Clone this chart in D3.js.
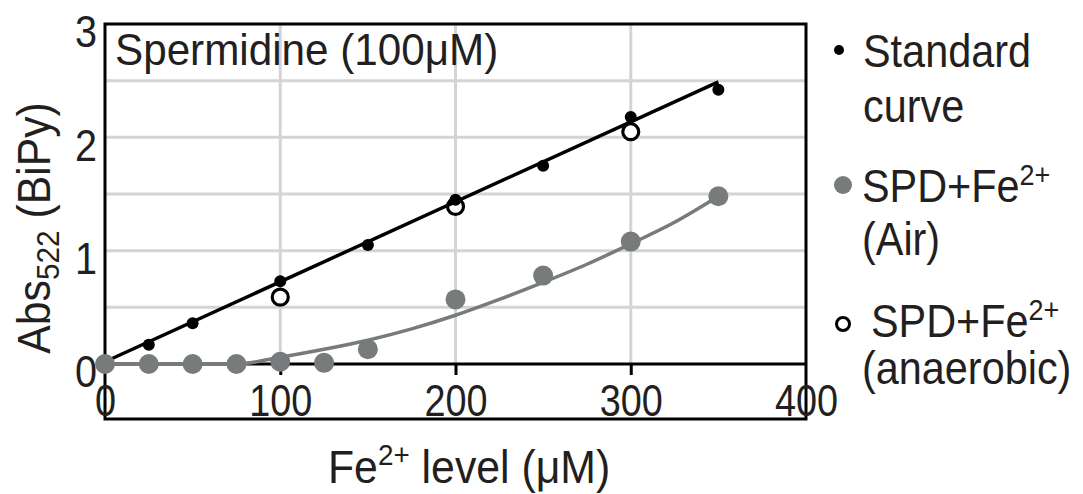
<!DOCTYPE html>
<html>
<head>
<meta charset="utf-8">
<script src="https://cdn.jsdelivr.net/npm/d3@7"></script>
<style>
body { margin: 0; background: #fff; }
text { font-family: "Liberation Sans", Arial, Helvetica, sans-serif; fill: #231f20; }
</style>
</head>
<body>
<div id="chart"></div>
<script>
// Fe2+ level (uM) vs Abs522

// standard curve (small black dots + straight fit)
var stdX = [0, 25, 50, 100, 150, 200, 250, 300, 350];
var stdY = [0.02, 0.17, 0.36, 0.73, 1.05, 1.45, 1.75, 2.18, 2.42];
var stdFitX = [0, 350];
var stdFitY = [0.02, 2.49];

// SPD + Fe2+ in air (grey dots + grey trend)
var airX = [0, 25, 50, 75, 100, 125, 150, 200, 250, 300, 350];
var airY = [0, 0, 0, 0, 0.02, 0.01, 0.13, 0.57, 0.78, 1.08, 1.48];
var airFitX = [0, 75, 100, 125, 150, 175, 200, 225, 250, 275, 300, 325, 350];
var airFitY = [0, 0, 0.06, 0.13, 0.21, 0.31, 0.43, 0.57, 0.72, 0.88, 1.06, 1.25, 1.48];

// SPD + Fe2+ anaerobic (open circles)
var anaX = [100, 200, 300];
var anaY = [0.59, 1.39, 2.05];

var xTicks = [0, 100, 200, 300, 400];
var yTicks = [0, 1, 2, 3];
var xGrid = [100, 200, 300];
var yGrid = [0.5, 1, 1.5, 2, 2.5];

var W = 1083, H = 494;
var grey = "#777b7b";

var svg = d3.select("#chart").append("svg")
    .attr("width", W)
    .attr("height", H);

var x = d3.scaleLinear().domain([0, 400]).range([105, 806]);
var y = d3.scaleLinear().domain([0, 3]).range([364, 24]);

// grid
svg.append("g").selectAll("line").data(yGrid).enter().append("line")
    .attr("x1", x(0)).attr("x2", x(400))
    .attr("y1", function(d) { return y(d); })
    .attr("y2", function(d) { return y(d); })
    .attr("stroke", "#d4d4d4").attr("stroke-width", 3);
svg.append("g").selectAll("line").data(xGrid).enter().append("line")
    .attr("x1", function(d) { return x(d); })
    .attr("x2", function(d) { return x(d); })
    .attr("y1", y(3)).attr("y2", y(0))
    .attr("stroke", "#d4d4d4").attr("stroke-width", 3);

// outer frame (goes down below the axis labels)
svg.append("rect")
    .attr("x", x(0)).attr("y", y(3))
    .attr("width", x(400) - x(0)).attr("height", 419 - y(3))
    .attr("fill", "none").attr("stroke", "#000").attr("stroke-width", 3);

// zero line
svg.append("line")
    .attr("x1", x(0)).attr("x2", x(400))
    .attr("y1", y(0)).attr("y2", y(0))
    .attr("stroke", "#000").attr("stroke-width", 3);

// axes
var gx = svg.append("g")
    .attr("transform", "translate(0," + y(0) + ")")
    .call(d3.axisBottom(x).tickValues(xTicks).tickSize(11).tickPadding(10)
          .tickFormat(d3.format("d")));
gx.select(".domain").remove();
gx.selectAll(".tick line").attr("stroke", "#000").attr("stroke-width", 3)
    .filter(function(d) { return d == 0 || d == 400; }).remove();
gx.selectAll("text").attr("font-size", 44).attr("fill", "#231f20")
    .style("font-family", "'Liberation Sans', Arial, sans-serif")
    .attr("transform", "scale(0.86,1)");

var gy = svg.append("g")
    .attr("transform", "translate(" + x(0) + ",0)")
    .call(d3.axisLeft(y).tickValues(yTicks).tickSize(0).tickPadding(9)
          .tickFormat(d3.format("d")));
gy.select(".domain").remove();
gy.selectAll("text").attr("font-size", 44).attr("fill", "#231f20")
    .attr("dy", "0.52em")
    .style("font-family", "'Liberation Sans', Arial, sans-serif")
    .attr("transform", "scale(0.9,1)");

function pairs(xs, ys) {
    return xs.map(function(v, i) { return [v, ys[i]]; });
}

// anaerobic open circles (under the standard line)
svg.append("g").selectAll("circle").data(pairs(anaX, anaY)).enter().append("circle")
    .attr("cx", function(d) { return x(d[0]); })
    .attr("cy", function(d) { return y(d[1]); })
    .attr("r", 8)
    .attr("fill", "#fff").attr("stroke", "#000").attr("stroke-width", 3.2);

var line = d3.line()
    .x(function(d) { return x(d[0]); })
    .y(function(d) { return y(d[1]); });

// standard curve
svg.append("path").datum(pairs(stdFitX, stdFitY))
    .attr("d", line)
    .attr("fill", "none").attr("stroke", "#000").attr("stroke-width", 3.5);
svg.append("g").selectAll("circle").data(pairs(stdX, stdY)).enter().append("circle")
    .attr("cx", function(d) { return x(d[0]); })
    .attr("cy", function(d) { return y(d[1]); })
    .attr("r", 6).attr("fill", "#000");

// air trend + dots
svg.append("path").datum(pairs(airFitX, airFitY))
    .attr("d", line.curve(d3.curveMonotoneX))
    .attr("fill", "none").attr("stroke", grey).attr("stroke-width", 3.5);
svg.append("g").selectAll("circle").data(pairs(airX, airY)).enter().append("circle")
    .attr("cx", function(d) { return x(d[0]); })
    .attr("cy", function(d) { return y(d[1]); })
    .attr("r", 10).attr("fill", grey);

// text helper: squeezed horizontally like the original lettering
function label(px, py, size, sx) {
    return svg.append("text")
        .attr("transform", "translate(" + px + "," + py + ") scale(" + sx + ",1)")
        .attr("font-size", size);
}

label(115, 65, 44, 0.96).text("Spermidine (100\u03bcM)");

var xt = label(328, 483, 46, 0.93);
xt.append("tspan").text("Fe");
xt.append("tspan").attr("font-size", 30).attr("dy", -18).text("2+");
xt.append("tspan").attr("dy", 18).text(" level (\u03bcM)");

var yt = svg.append("text")
    .attr("transform", "translate(50,228) rotate(-90) scale(0.93,1)")
    .attr("font-size", 46)
    .attr("text-anchor", "middle");
yt.append("tspan").text("Abs");
yt.append("tspan").attr("font-size", 32).attr("dy", 9).text("522");
yt.append("tspan").attr("dy", -9).text(" (BiPy)");

// legend
svg.append("circle").attr("cx", 839).attr("cy", 50).attr("r", 5).attr("fill", "#000");
label(863, 67, 46, 0.9).text("Standard");
label(863, 122, 46, 0.9).text("curve");

svg.append("circle").attr("cx", 843).attr("cy", 185).attr("r", 9).attr("fill", grey);
var l2 = label(862, 202, 46, 0.9);
l2.append("tspan").text("SPD+Fe");
l2.append("tspan").attr("font-size", 30).attr("dy", -17).text("2+");
label(862, 255, 46, 0.9).text("(Air)");

svg.append("circle").attr("cx", 843).attr("cy", 324).attr("r", 6.5)
    .attr("fill", "#fff").attr("stroke", "#000").attr("stroke-width", 3);
var l3 = label(871, 337, 46, 0.9);
l3.append("tspan").text("SPD+Fe");
l3.append("tspan").attr("font-size", 30).attr("dy", -17).text("2+");
label(862, 384, 46, 0.9).text("(anaerobic)");
</script>
</body>
</html>
